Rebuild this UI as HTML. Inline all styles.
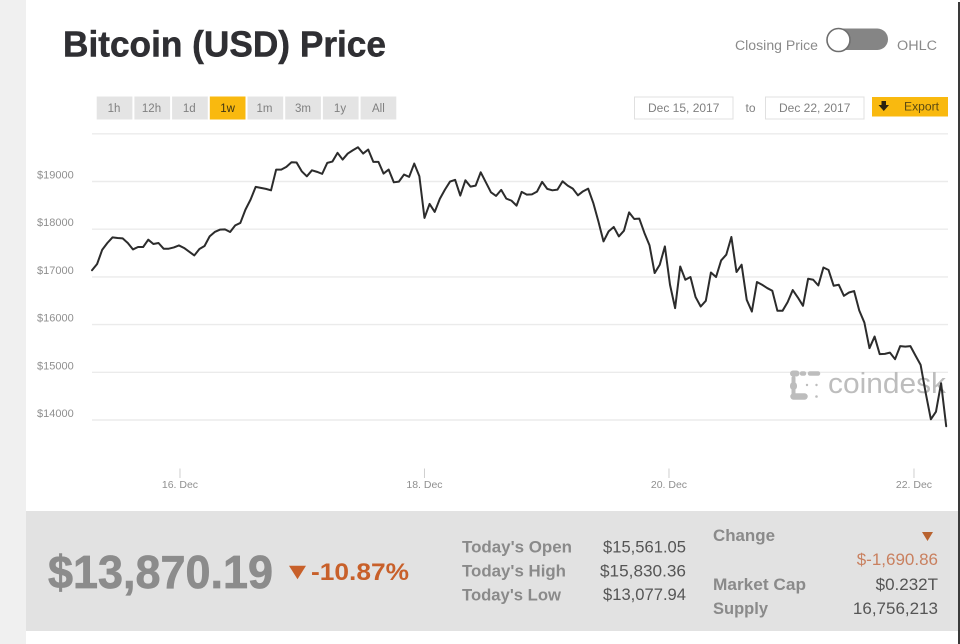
<!DOCTYPE html>
<html lang="en">
<head>
<meta charset="utf-8">
<title>Bitcoin (USD) Price</title>
<style>
html,body{margin:0;padding:0;background:#fff;}
body{width:960px;height:644px;overflow:hidden;}
svg{display:block;font-family:"Liberation Sans",sans-serif;}
</style>
</head>
<body>
<svg id="page" width="960" height="644" viewBox="0 0 960 644" xmlns="http://www.w3.org/2000/svg">
  <rect x="0" y="0" width="960" height="644" fill="#ffffff"/>
  <rect x="0" y="0" width="26" height="644" fill="#f0f0f0"/>
  <rect x="958" y="2" width="2" height="642" fill="#3a3a3a"/>

  <text x="63" y="56.5" font-size="36" font-weight="700" fill="#2f2f33" stroke="#2f2f33" stroke-width="0.5" textLength="323" lengthAdjust="spacingAndGlyphs">Bitcoin (USD) Price</text>

  <text x="735" y="50" font-size="13.5" fill="#8a8a8a" textLength="83" lengthAdjust="spacingAndGlyphs">Closing Price</text>
  <g>
    <rect x="827" y="28.5" width="61" height="21.5" rx="10.7" fill="#858585"/>
    <circle cx="838.5" cy="40" r="11.5" fill="#ffffff" stroke="#6e6e6e" stroke-width="1.6"/>
  </g>
  <text x="897" y="50" font-size="13.5" fill="#8a8a8a" textLength="40" lengthAdjust="spacingAndGlyphs">OHLC</text>

  <g>
    <g><rect x="96.7" y="96.5" width="35.7" height="23" fill="#e4e4e4"/><text x="114" y="112" font-size="11.5" fill="#808080" text-anchor="middle">1h</text></g>
    <g><rect x="134.4" y="96.5" width="35.7" height="23" fill="#e4e4e4"/><text x="151.5" y="112" font-size="11.5" fill="#808080" text-anchor="middle">12h</text></g>
    <g><rect x="172.1" y="96.5" width="35.7" height="23" fill="#e4e4e4"/><text x="189.3" y="112" font-size="11.5" fill="#808080" text-anchor="middle">1d</text></g>
    <g><rect x="209.8" y="96.5" width="35.7" height="23" fill="#f9b90f"/><text x="227.6" y="112" font-size="11.5" fill="#3d3415" text-anchor="middle">1w</text></g>
    <g><rect x="247.5" y="96.5" width="35.7" height="23" fill="#e4e4e4"/><text x="264.5" y="112" font-size="11.5" fill="#808080" text-anchor="middle">1m</text></g>
    <g><rect x="285.2" y="96.5" width="35.7" height="23" fill="#e4e4e4"/><text x="303" y="112" font-size="11.5" fill="#808080" text-anchor="middle">3m</text></g>
    <g><rect x="322.9" y="96.5" width="35.7" height="23" fill="#e4e4e4"/><text x="340" y="112" font-size="11.5" fill="#808080" text-anchor="middle">1y</text></g>
    <g><rect x="360.6" y="96.5" width="35.7" height="23" fill="#e4e4e4"/><text x="378.4" y="112" font-size="11.5" fill="#808080" text-anchor="middle">All</text></g>
  </g>

  <g>
    <rect x="634.5" y="97" width="98.5" height="22" fill="#fff" stroke="#e0e0e0"/>
    <text x="683.7" y="112" font-size="12" fill="#808080" text-anchor="middle">Dec 15, 2017</text>
  </g>
  <text x="750.5" y="112" font-size="12" fill="#808080" text-anchor="middle">to</text>
  <g>
    <rect x="765.5" y="97" width="98.5" height="22" fill="#fff" stroke="#e0e0e0"/>
    <text x="814.7" y="112" font-size="12" fill="#808080" text-anchor="middle">Dec 22, 2017</text>
  </g>
  <g>
    <rect x="872" y="97" width="76" height="19.5" fill="#f9b90f"/>
    <path d="M881.5 101h4.5v4h3l-5.2 6-5.3-6h3z" fill="#2a2210"/>
    <text x="904" y="110.5" font-size="11.5" fill="#5c4a12" textLength="35" lengthAdjust="spacingAndGlyphs">Export</text>
  </g>

  <g id="grid"></g>
  <g id="ylabels"></g>
  <g id="xaxis"></g>

  <g>
    <g stroke="#bdbdbd" stroke-linecap="round" fill="none">
      <path d="M793 373.5h3.5" stroke-width="6"/>
      <path d="M802 373.5h2M810 373.5h8" stroke-width="4.5"/>
      <path d="M793.5 378v17" stroke-width="4"/>
      <path d="M793.5 385.5v1" stroke-width="7"/>
      <path d="M793.5 396.5h11" stroke-width="6.5"/>
    </g>
    <g fill="#bdbdbd">
      <circle cx="807" cy="385" r="1.2"/><circle cx="816.5" cy="385" r="1.2"/><circle cx="816.5" cy="396.5" r="1.3"/>
    </g>
    <text x="828" y="393" font-size="29" fill="#bdbdbd" textLength="118" lengthAdjust="spacingAndGlyphs">coindesk</text>
  </g>

  <path id="price-line" d="" fill="none" stroke="#2c2c2c" stroke-width="2" stroke-linejoin="round" stroke-linecap="round"/>

  <g>
    <rect x="26" y="511" width="932" height="120" fill="#e2e2e2"/>
    <text x="48" y="588" font-size="46" font-weight="700" fill="#8c8c8c" stroke="#8c8c8c" stroke-width="0.7" textLength="225" lengthAdjust="spacingAndGlyphs">$13,870.19</text>
    <path d="M289 565.7h17l-8.5 13.6z" fill="#c8602a"/>
    <text x="311" y="580" font-size="24" font-weight="700" fill="#c8602a" textLength="98" lengthAdjust="spacingAndGlyphs">-10.87%</text>

    <text x="462" y="552.7" font-size="16.5" font-weight="700" fill="#8a8a8a" textLength="110" lengthAdjust="spacingAndGlyphs">Today's Open</text>
    <text x="462" y="576.7" font-size="16.5" font-weight="700" fill="#8a8a8a" textLength="104" lengthAdjust="spacingAndGlyphs">Today's High</text>
    <text x="462" y="600.7" font-size="16.5" font-weight="700" fill="#8a8a8a" textLength="99" lengthAdjust="spacingAndGlyphs">Today's Low</text>
    <text x="686" y="552.7" font-size="17" fill="#555" text-anchor="end" textLength="83" lengthAdjust="spacingAndGlyphs">$15,561.05</text>
    <text x="686" y="576.7" font-size="17" fill="#555" text-anchor="end" textLength="86" lengthAdjust="spacingAndGlyphs">$15,830.36</text>
    <text x="686" y="600" font-size="17" fill="#555" text-anchor="end" textLength="83" lengthAdjust="spacingAndGlyphs">$13,077.94</text>

    <text x="713" y="541" font-size="16.5" font-weight="700" fill="#8a8a8a" textLength="62" lengthAdjust="spacingAndGlyphs">Change</text>
    <path d="M922 532h11l-5.5 9z" fill="#b8622f"/>
    <text x="938" y="565" font-size="17" fill="#c9805f" text-anchor="end">$-1,690.86</text>
    <text x="713" y="590" font-size="16.5" font-weight="700" fill="#8a8a8a" textLength="93" lengthAdjust="spacingAndGlyphs">Market Cap</text>
    <text x="938" y="590" font-size="17" fill="#555" text-anchor="end">$0.232T</text>
    <text x="713" y="614" font-size="16.5" font-weight="700" fill="#8a8a8a" textLength="55" lengthAdjust="spacingAndGlyphs">Supply</text>
    <text x="938" y="614" font-size="17" fill="#555" text-anchor="end">16,756,213</text>
  </g>
</svg>
<script>
// Hourly closing prices (USD)
var prices = [
17140,17270,17570,17711,17828,17816,17807,17711,17576,17627,
17627,17780,17690,17711,17591,17591,17618,17660,17606,17528,
17450,17585,17648,17849,17942,17990,17996,17942,18080,18131,
18410,18620,18887,18866,18845,18815,19250,19250,19307,19403,
19397,19214,19109,19235,19202,19160,19391,19418,19601,19460,
19586,19655,19718,19586,19670,19412,19412,19166,19250,18983,
18998,19145,19097,19376,19109,18236,18530,18362,18635,18830,
18998,19034,18704,19025,18893,18914,19193,18983,18773,18698,
18824,18641,18599,18494,18782,18725,18731,18788,18992,18845,
18815,18830,19004,18914,18851,18710,18794,18851,18551,18164,
17744,17954,18047,17849,17969,18353,18215,18221,17921,17660,
17081,17255,17639,16835,16346,17219,16940,16997,16577,16379,
16499,17093,16997,17345,17465,17837,17102,17255,16520,16274,
16892,16835,16766,16709,16289,16289,16472,16724,16568,16394,
16961,16940,16820,17198,17144,16814,16835,16604,16673,16703,
16295,16043,15506,15749,15380,15386,15413,15275,15548,15539,
15548,15350,15155,14561,14015,14174,14771,13870
];
var gridValues = [14000,15000,16000,17000,18000,19000,20000];
var yTickValues = [14000,15000,16000,17000,18000,19000];
var yTickLabels = ["$14000","$15000","$16000","$17000","$18000","$19000"];
var xTickHours = [17.2,65,112.8,160.7];
var xTickLabels = ["16. Dec","18. Dec","20. Dec","22. Dec"];

var NS = "http://www.w3.org/2000/svg";
function xScale(hour){ return 92 + hour * 5.115; }
function yScale(value){ return 420 - (value - 14000) * 0.0477; }

var grid = document.getElementById("grid");
gridValues.forEach(function(v){
  var l = document.createElementNS(NS, "line");
  l.setAttribute("x1", 92);
  l.setAttribute("x2", 948);
  l.setAttribute("y1", yScale(v));
  l.setAttribute("y2", yScale(v));
  l.setAttribute("stroke", "#ebebeb");
  l.setAttribute("stroke-width", "1.4");
  
  
  grid.appendChild(l);
});

var ylabels = document.getElementById("ylabels");
yTickValues.forEach(function(v, i){
  var t = document.createElementNS(NS, "text");
  t.setAttribute("x", 37);
  t.setAttribute("y", yScale(v) - 3);
  t.setAttribute("font-size", "11");
  t.setAttribute("fill", "#8f8f8f");
  t.textContent = yTickLabels[i];
  
  
  ylabels.appendChild(t);
});

var xaxis = document.getElementById("xaxis");
xTickHours.forEach(function(h, i){
  var x = xScale(h);
  var m = document.createElementNS(NS, "line");
  m.setAttribute("x1", x);
  m.setAttribute("x2", x);
  m.setAttribute("y1", 468.5);
  m.setAttribute("y2", 478);
  m.setAttribute("stroke", "#cfcfcf");
  
  
  xaxis.appendChild(m);
  var t = document.createElementNS(NS, "text");
  t.setAttribute("x", x);
  t.setAttribute("y", 488);
  t.setAttribute("font-size", "10.5");
  t.setAttribute("fill", "#8f8f8f");
  t.setAttribute("text-anchor", "middle");
  t.textContent = xTickLabels[i];
  
  
  xaxis.appendChild(t);
});

var d = prices.map(function(p, i){
  return (i ? "L" : "M") + xScale(i).toFixed(2) + " " + yScale(p).toFixed(2);
}).join(" ");
document.getElementById("price-line").setAttribute("d", d);
</script>
</body>
</html>
